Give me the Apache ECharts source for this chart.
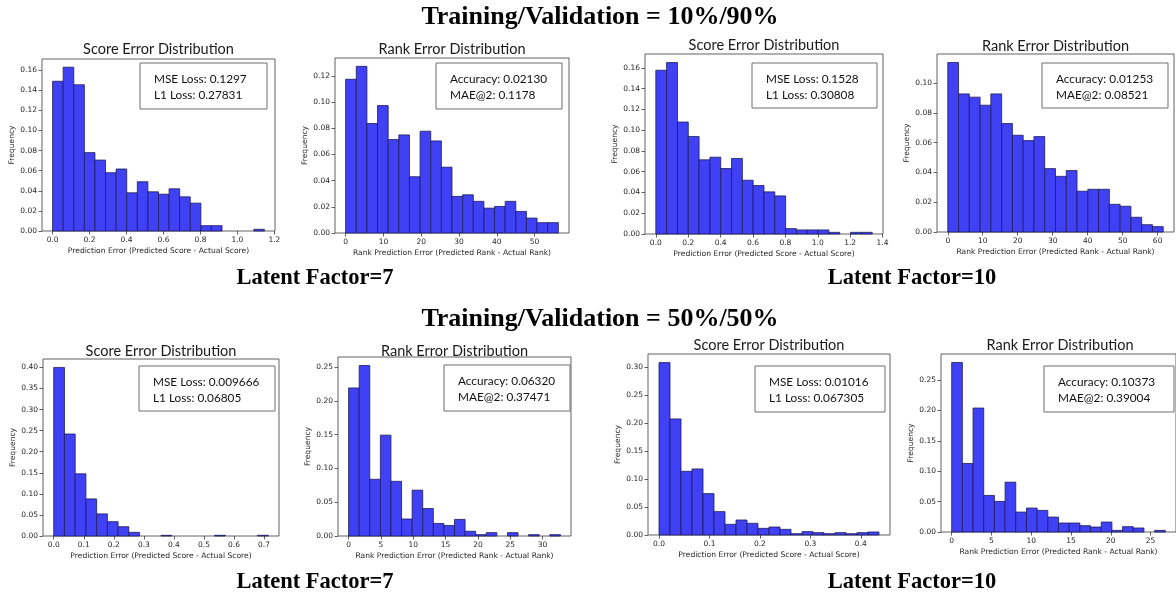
<!DOCTYPE html>
<html>
<head>
<meta charset="utf-8">
<script src="https://cdn.jsdelivr.net/npm/echarts@6/dist/echarts.min.js"></script>
<style>
  html, body { margin: 0; padding: 0; background: #fff; }
  #chart { width: 1176px; height: 597px; }
</style>
</head>
<body>
<div id="chart"></div>
<script>
// ---------------- DATA ----------------
const headings = ['Training/Validation = 10%/90%', 'Training/Validation = 50%/50%'];
const factorLabels = ['Latent Factor=7', 'Latent Factor=10', 'Latent Factor=7', 'Latent Factor=10'];

const panelTitles = ['Score Error Distribution', 'Rank Error Distribution', 'Score Error Distribution', 'Rank Error Distribution',
                     'Score Error Distribution', 'Rank Error Distribution', 'Score Error Distribution', 'Rank Error Distribution'];
const scoreXLabel = 'Prediction Error (Predicted Score - Actual Score)';
const rankXLabel = 'Rank Prediction Error (Predicted Rank - Actual Rank)';
const yLabel = 'Frequency';

const boxTexts = [
  ['MSE Loss: 0.1297', 'L1 Loss: 0.27831'],
  ['Accuracy: 0.02130', 'MAE@2: 0.1178'],
  ['MSE Loss: 0.1528', 'L1 Loss: 0.30808'],
  ['Accuracy: 0.01253', 'MAE@2: 0.08521'],
  ['MSE Loss: 0.009666', 'L1 Loss: 0.06805'],
  ['Accuracy: 0.06320', 'MAE@2: 0.37471'],
  ['MSE Loss: 0.01016', 'L1 Loss: 0.067305'],
  ['Accuracy: 0.10373', 'MAE@2: 0.39004']
];

// histogram frequencies (20 equal bins from 0 to the error maximum)
const score_10_90_lf7  = [0.149, 0.163, 0.1455, 0.078, 0.0706, 0.058, 0.0617, 0.038, 0.049, 0.039, 0.0366, 0.042, 0.034, 0.0277, 0.0053, 0.0053, 0, 0, 0, 0.0017];
const rank_10_90_lf7   = [0.1175, 0.1274, 0.0837, 0.0974, 0.0714, 0.075, 0.043, 0.0778, 0.0704, 0.0503, 0.028, 0.0292, 0.0242, 0.019, 0.0203, 0.0242, 0.0165, 0.0114, 0.0079, 0.0079];
const score_10_90_lf10 = [0.1578, 0.1652, 0.1079, 0.094, 0.0715, 0.074, 0.0631, 0.0728, 0.0518, 0.0467, 0.0406, 0.0367, 0.0052, 0.0039, 0.0039, 0.0039, 0.0016, 0, 0.0016, 0.0016];
const rank_10_90_lf10  = [0.1139, 0.0928, 0.0906, 0.0852, 0.0928, 0.0729, 0.065, 0.0614, 0.0641, 0.0426, 0.0374, 0.0413, 0.0274, 0.0287, 0.0287, 0.0186, 0.0173, 0.0099, 0.0049, 0.0036];
const score_50_50_lf7  = [0.40, 0.242, 0.1476, 0.088, 0.0524, 0.034, 0.022, 0.0087, 0, 0, 0.0016, 0, 0, 0, 0, 0.0016, 0, 0, 0, 0.0016];
const rank_50_50_lf7   = [0.2193, 0.2525, 0.084, 0.1494, 0.081, 0.0252, 0.0679, 0.0407, 0.0186, 0.0156, 0.0246, 0.007, 0.002, 0.005, 0, 0.005, 0, 0.002, 0, 0.002];
const score_50_50_lf10 = [0.3083, 0.2076, 0.1139, 0.1181, 0.074, 0.0418, 0.0191, 0.0268, 0.0209, 0.0119, 0.0143, 0.0101, 0.0024, 0.006, 0.0042, 0.0024, 0.0042, 0.0024, 0.0042, 0.0054];
const rank_50_50_lf10  = [0.279, 0.1127, 0.204, 0.0602, 0.0503, 0.082, 0.0328, 0.0394, 0.0356, 0.0246, 0.0148, 0.0148, 0.0104, 0.0082, 0.0164, 0.0027, 0.0088, 0.0066, 0, 0.0027];

// maximum error value (upper edge of the last bin) for each histogram
const errorMax = [1.146, 56.3, 1.336, 61.6, 0.714, 32.75, 0.436, 26.85];

// tick labels
const xTicks_p1 = ['0.0', '0.2', '0.4', '0.6', '0.8', '1.0', '1.2'];
const xTicks_p2 = ['0', '10', '20', '30', '40', '50'];
const xTicks_p3 = ['0.0', '0.2', '0.4', '0.6', '0.8', '1.0', '1.2', '1.4'];
const xTicks_p4 = ['0', '10', '20', '30', '40', '50', '60'];
const xTicks_p5 = ['0.0', '0.1', '0.2', '0.3', '0.4', '0.5', '0.6', '0.7'];
const xTicks_p6 = ['0', '5', '10', '15', '20', '25', '30'];
const xTicks_p7 = ['0.0', '0.1', '0.2', '0.3', '0.4'];
const xTicks_p8 = ['0', '5', '10', '15', '20', '25'];
const yTicks_p1 = ['0.00', '0.02', '0.04', '0.06', '0.08', '0.10', '0.12', '0.14', '0.16'];
const yTicks_p2 = ['0.00', '0.02', '0.04', '0.06', '0.08', '0.10', '0.12'];
const yTicks_p3 = ['0.00', '0.02', '0.04', '0.06', '0.08', '0.10', '0.12', '0.14', '0.16'];
const yTicks_p4 = ['0.00', '0.02', '0.04', '0.06', '0.08', '0.10'];
const yTicks_p5 = ['0.00', '0.05', '0.10', '0.15', '0.20', '0.25', '0.30', '0.35', '0.40'];
const yTicks_p6 = ['0.00', '0.05', '0.10', '0.15', '0.20', '0.25'];
const yTicks_p7 = ['0.00', '0.05', '0.10', '0.15', '0.20', '0.25', '0.30'];
const yTicks_p8 = ['0.00', '0.05', '0.10', '0.15', '0.20', '0.25'];

// ---------------- ASSEMBLY ----------------
const freqs = [score_10_90_lf7, rank_10_90_lf7, score_10_90_lf10, rank_10_90_lf10,
               score_50_50_lf7, rank_50_50_lf7, score_50_50_lf10, rank_50_50_lf10];
const xTicks = [xTicks_p1, xTicks_p2, xTicks_p3, xTicks_p4, xTicks_p5, xTicks_p6, xTicks_p7, xTicks_p8];
const yTicks = [yTicks_p1, yTicks_p2, yTicks_p3, yTicks_p4, yTicks_p5, yTicks_p6, yTicks_p7, yTicks_p8];
const isScore = [true, false, true, false, true, false, true, false];

// layout: plot box (left, top, right, bottom), title y, annotation box (x0, y0, x1, y1)
const layout = [
  { l: 42,  t: 59,  r: 275,  b: 231, ty: 49,  box: [140, 63, 267, 109] },
  { l: 335, t: 58,  r: 569,  b: 233, ty: 49,  box: [436, 63, 562, 109] },
  { l: 645, t: 54,  r: 883,  b: 234, ty: 45,  box: [752, 63, 877, 108] },
  { l: 937, t: 54,  r: 1174, b: 232, ty: 46,  box: [1042, 63, 1168, 108] },
  { l: 43,  t: 359, r: 279,  b: 536, ty: 351, box: [139, 366, 275, 411] },
  { l: 338, t: 357, r: 571,  b: 536, ty: 351, box: [444, 365, 570, 411] },
  { l: 648, t: 354, r: 890,  b: 535, ty: 345, box: [755, 366, 885, 412] },
  { l: 941, t: 354, r: 1179, b: 532, ty: 345, box: [1044, 366, 1174, 412] }
];

const TXT = '#262626';
const AX = '#3a3a3a';
const tickFont = 'DejaVu Sans';
const grids = [], xAxes = [], yAxes = [], series = [], graphics = [];

layout.forEach((L, i) => {
  const M = errorMax[i];
  const f = freqs[i];
  const n = f.length;
  const w = M / n;
  const fmax = Math.max.apply(null, f);

  grids.push({
    left: L.l, top: L.t, width: L.r - L.l, height: L.b - L.t,
    show: true, borderColor: AX, borderWidth: 0.8, backgroundColor: 'transparent'
  });
  const xv = xTicks[i].map(parseFloat);
  const yv = yTicks[i].map(parseFloat);
  xAxes.push({
    type: 'value', gridIndex: i, min: -0.05 * M, max: 1.05 * M,
    axisLine: { show: false, onZero: false },
    splitLine: { show: false },
    axisTick: { show: true, inside: false, length: 3.5, customValues: xv, lineStyle: { color: AX, width: 0.8 } },
    axisLabel: { customValues: xv, fontSize: 7.5, fontFamily: tickFont, color: TXT, margin: 5,
                 formatter: v => xTicks[i][xv.findIndex(t => Math.abs(t - v) < 1e-9)] ?? '' },
    name: isScore[i] ? scoreXLabel : rankXLabel,
    nameLocation: 'middle', nameGap: 16,
    nameTextStyle: { fontSize: 7.6, fontFamily: tickFont, color: TXT }
  });
  yAxes.push({
    type: 'value', gridIndex: i, min: 0, max: 1.05 * fmax,
    axisLine: { show: false, onZero: false },
    splitLine: { show: false },
    axisTick: { show: true, inside: false, length: 3.5, customValues: yv, lineStyle: { color: AX, width: 0.8 } },
    axisLabel: { customValues: yv, fontSize: 7.5, fontFamily: tickFont, color: TXT, margin: 5,
                 formatter: v => yTicks[i][yv.findIndex(t => Math.abs(t - v) < 1e-9)] ?? '' },
    name: yLabel, nameLocation: 'middle', nameGap: 25, nameRotate: 90,
    nameTextStyle: { fontSize: 7.6, fontFamily: tickFont, color: TXT }
  });
  series.push({
    type: 'custom', xAxisIndex: i, yAxisIndex: i, clip: false,
    data: f.map((v, k) => [k * w, (k + 1) * w, v]),
    encode: { x: [0, 1], y: 2 },
    renderItem: (params, api) => {
      const v = api.value(2);
      if (!(v > 0)) return null;
      const p0 = api.coord([api.value(0), v]);
      const p1 = api.coord([api.value(1), 0]);
      return {
        type: 'rect',
        shape: { x: p0[0], y: p0[1], width: p1[0] - p0[0], height: p1[1] - p0[1] },
        style: { fill: '#4040f5', stroke: '#1d1d5a', lineWidth: 0.8 }
      };
    }
  });
  // panel title
  graphics.push({
    type: 'text', x: (L.l + L.r) / 2, y: L.ty,
    style: { text: panelTitles[i], font: '14.5px Lato', fill: '#1a1a1a', align: 'center', verticalAlign: 'middle' }
  });
  // annotation box
  const B = L.box;
  graphics.push({
    type: 'rect', shape: { x: B[0], y: B[1], width: B[2] - B[0], height: B[3] - B[1] },
    style: { fill: '#fff', stroke: '#6e6e6e', lineWidth: 1 }, z: 10
  });
  boxTexts[i].forEach((t, k) => {
    graphics.push({
      type: 'text', x: B[0] + 14, y: B[1] + 16 + k * 16, z: 11,
      style: { text: t, font: '11.8px Lato', fill: '#111', align: 'left', verticalAlign: 'middle' }
    });
  });
});

// figure headings
const headFont = 'bold 26px "Liberation Serif"';
const subFont = 'bold 22.5px "Liberation Serif"';
graphics.push({ type: 'text', x: 600, y: 17, style: { text: headings[0], font: headFont, fill: '#000', align: 'center', verticalAlign: 'middle' } });
graphics.push({ type: 'text', x: 600, y: 319, style: { text: headings[1], font: headFont, fill: '#000', align: 'center', verticalAlign: 'middle' } });
graphics.push({ type: 'text', x: 315, y: 278, style: { text: factorLabels[0], font: subFont, fill: '#000', align: 'center', verticalAlign: 'middle' } });
graphics.push({ type: 'text', x: 912, y: 278, style: { text: factorLabels[1], font: subFont, fill: '#000', align: 'center', verticalAlign: 'middle' } });
graphics.push({ type: 'text', x: 315, y: 582, style: { text: factorLabels[2], font: subFont, fill: '#000', align: 'center', verticalAlign: 'middle' } });
graphics.push({ type: 'text', x: 912, y: 582, style: { text: factorLabels[3], font: subFont, fill: '#000', align: 'center', verticalAlign: 'middle' } });

const chart = echarts.init(document.getElementById('chart'), null, { renderer: 'canvas' });
chart.setOption({
  animation: false,
  backgroundColor: '#fff',
  grid: grids,
  xAxis: xAxes,
  yAxis: yAxes,
  series: series,
  graphic: { elements: graphics }
});
</script>
</body>
</html>
